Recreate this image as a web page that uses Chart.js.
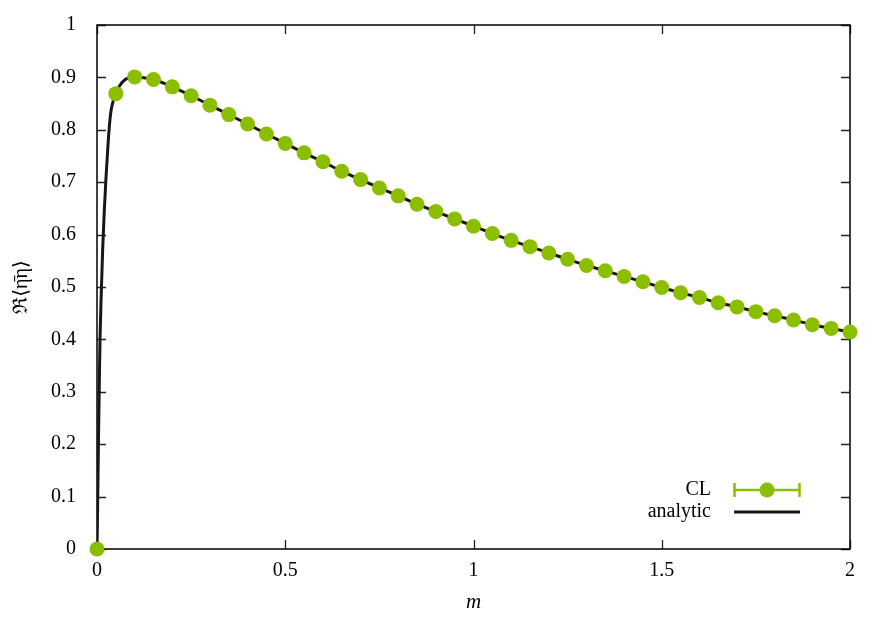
<!DOCTYPE html>
<html>
<head>
<meta charset="utf-8">
<script src="https://cdn.jsdelivr.net/npm/chart.js@4"></script>
<style>
  html, body { margin: 0; padding: 0; background: #fff; }
  #wrap { width: 889px; height: 619px; }
</style>
</head>
<body>
<div id="wrap"><canvas id="chart" width="889" height="619"></canvas></div>
<script>
// ---- data ----
const mValues = [0, 0.05, 0.1, 0.15, 0.2, 0.25, 0.3, 0.35, 0.4, 0.45, 0.5, 0.55, 0.6, 0.65, 0.7,
  0.75, 0.8, 0.85, 0.9, 0.95, 1.0, 1.05, 1.1, 1.15, 1.2, 1.25, 1.3, 1.35, 1.4, 1.45, 1.5,
  1.55, 1.6, 1.65, 1.7, 1.75, 1.8, 1.85, 1.9, 1.95, 2.0];
const clValues = [0, 0.869, 0.901, 0.896, 0.882, 0.865, 0.847, 0.829, 0.811, 0.792, 0.774,
  0.756, 0.739, 0.721, 0.705, 0.689, 0.674, 0.658, 0.644, 0.630, 0.616, 0.602, 0.589, 0.577,
  0.565, 0.553, 0.541, 0.531, 0.520, 0.510, 0.499, 0.489, 0.480, 0.470, 0.462, 0.453, 0.445,
  0.437, 0.428, 0.421, 0.414];

// analytic curve: extra samples where it shoots up near m = 0
const analyticM = [0, 0.002, 0.004, 0.006, 0.008, 0.011, 0.015, 0.019, 0.024, 0.030, 0.036,
  0.043, 0.05, 0.06, 0.075, 0.1];
const analyticY = [0, 0.10, 0.21, 0.31, 0.40, 0.48, 0.57, 0.64, 0.71, 0.78, 0.83,
  0.855, 0.869, 0.884, 0.896, 0.901];

const xTicks = [0, 0.5, 1, 1.5, 2];
const yTicks = [0, 0.1, 0.2, 0.3, 0.4, 0.5, 0.6, 0.7, 0.8, 0.9, 1];

const green = 'rgb(140, 190, 0)';
const dark = '#1c1410';
const serif = "'Liberation Serif', 'DejaVu Serif', serif";

const clPoints = mValues.map((m, i) => ({ x: m, y: clValues[i] }));
const analyticPoints = analyticM.map((m, i) => ({ x: m, y: analyticY[i] }))
  .concat(mValues.filter(m => m > 0.1).map(m => ({ x: m, y: clValues[mValues.indexOf(m)] })));

// inward ticks on all four sides plus the frame, gnuplot style
const framePlugin = {
  id: 'frame',
  beforeDatasetsDraw(chart) {
    const { ctx, chartArea: a, scales } = chart;
    ctx.save();
    ctx.strokeStyle = '#222';
    ctx.lineWidth = 1.3;
    const len = 9;
    xTicks.forEach(v => {
      const px = Math.round(scales.x.getPixelForValue(v)) + 0.5;
      ctx.beginPath();
      ctx.moveTo(px, a.bottom); ctx.lineTo(px, a.bottom - len);
      ctx.moveTo(px, a.top); ctx.lineTo(px, a.top + len);
      ctx.stroke();
    });
    yTicks.forEach(v => {
      const py = Math.round(scales.y.getPixelForValue(v)) + 0.5;
      ctx.beginPath();
      ctx.moveTo(a.left, py); ctx.lineTo(a.left + len, py);
      ctx.moveTo(a.right, py); ctx.lineTo(a.right - len, py);
      ctx.stroke();
    });
    ctx.lineWidth = 1.5;
    ctx.strokeStyle = '#000';
    ctx.strokeRect(a.left, a.top, a.right - a.left, a.bottom - a.top);
    ctx.restore();
  },
  afterDraw(chart) {
    // legend box in the lower right
    const { ctx } = chart;
    ctx.save();
    ctx.font = '20px ' + serif;
    ctx.fillStyle = '#000';
    ctx.textAlign = 'right';
    ctx.textBaseline = 'middle';
    ctx.fillText('CL', 711, 490);
    ctx.fillText('analytic', 711, 512);

    ctx.strokeStyle = green;
    ctx.lineWidth = 2.5;
    ctx.beginPath();
    ctx.moveTo(734, 490); ctx.lineTo(800, 490);
    ctx.moveTo(734.5, 483); ctx.lineTo(734.5, 497);
    ctx.moveTo(799.5, 483); ctx.lineTo(799.5, 497);
    ctx.stroke();
    ctx.fillStyle = green;
    ctx.beginPath();
    ctx.arc(767, 490, 7.5, 0, Math.PI * 2);
    ctx.fill();

    ctx.strokeStyle = dark;
    ctx.lineWidth = 3;
    ctx.beginPath();
    ctx.moveTo(734, 512); ctx.lineTo(800, 512);
    ctx.stroke();
    ctx.restore();
  }
};

new Chart(document.getElementById('chart').getContext('2d'), {
  type: 'scatter',
  data: {
    datasets: [
      {
        label: 'CL',
        data: clPoints,
        showLine: false,
        pointRadius: 7.5,
        pointBackgroundColor: green,
        pointBorderWidth: 0,
        clip: false,
      },
      {
        label: 'analytic',
        data: analyticPoints,
        showLine: true,
        borderColor: dark,
        borderWidth: 3,
        pointRadius: 0,
        cubicInterpolationMode: 'monotone',
      },
    ],
  },
  options: {
    responsive: false,
    animation: false,
    layout: { padding: { top: 25, right: 39, left: 0, bottom: 0 } },
    plugins: {
      legend: { display: false },
      tooltip: { enabled: false },
    },
    scales: {
      x: {
        type: 'linear',
        min: 0,
        max: 2,
        afterBuildTicks: axis => { axis.ticks = xTicks.map(v => ({ value: v })); },
        afterFit: axis => { axis.height = 70; axis.paddingLeft = 0; axis.paddingRight = 0; },
        grid: { display: false, drawTicks: false },
        border: { display: false },
        ticks: {
          padding: 10,
          color: '#000',
          font: { family: serif, size: 20 },
          callback: v => String(v),
        },
        title: {
          display: true,
          text: 'm',
          color: '#000',
          font: { family: serif, size: 21, style: 'italic' },
          padding: { top: 0, bottom: 4 },
        },
      },
      y: {
        type: 'linear',
        min: 0,
        max: 1,
        afterBuildTicks: axis => { axis.ticks = yTicks.map(v => ({ value: v })); },
        afterFit: axis => { axis.width = 97; axis.paddingTop = 0; axis.paddingBottom = 0; },
        grid: { display: false, drawTicks: false },
        border: { display: false },
        ticks: {
          padding: 21,
          color: '#000',
          font: { family: serif, size: 20 },
          callback: v => String(v),
        },
        title: {
          display: true,
          text: 'ℜ⟨η̄η⟩',
          color: '#000',
          font: { family: serif, size: 20 },
          padding: { top: 10, bottom: 0 },
        },
      },
    },
  },
  plugins: [framePlugin],
});
</script>
</body>
</html>
